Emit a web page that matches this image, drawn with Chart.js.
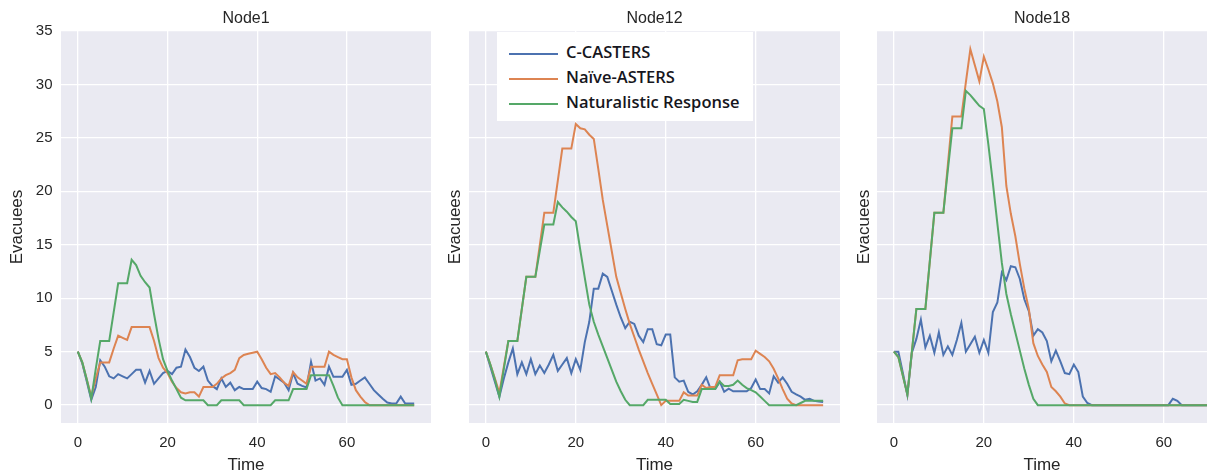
<!DOCTYPE html>
<html>
<head>
<meta charset="utf-8">
<title>Evacuees per node</title>
<script src="https://cdn.jsdelivr.net/npm/chart.js@4.4.1/dist/chart.umd.min.js"></script>
<style>
    body { margin: 0; background: #fff; width: 1207px; height: 473px; overflow: hidden; position: relative; }
    canvas { position: absolute; top: 0; }
    #legend { position: absolute; left: 497px; top: 32px; width: 256px; height: 89px; background: #fff;
              font-family: "Open Sans", Lato, sans-serif; font-size: 16.5px; font-weight: 600; color: #161620; }
    #legend .row { position: absolute; left: 12px; height: 20px; line-height: 20px; white-space: nowrap; }
    #legend .swatch { display: inline-block; width: 49px; height: 2px; vertical-align: middle; margin-right: 8px; }
</style>
</head>
<body>
<canvas id="node1" width="431" height="473" style="left:0px"></canvas>
<canvas id="node12" width="400" height="473" style="left:440px"></canvas>
<canvas id="node18" width="357" height="473" style="left:850px"></canvas>
<div id="legend"></div>

<script>
const seriesNames = ['C-CASTERS', 'Naïve-ASTERS', 'Naturalistic Response'];
const seriesColors = ['#4C72B0', '#DD8452', '#55A868'];

const time = [0, 1, 2, 3, 4, 5, 6, 7, 8, 9, 10, 11, 12, 13, 14, 15, 16, 17, 18, 19,
    20, 21, 22, 23, 24, 25, 26, 27, 28, 29, 30, 31, 32, 33, 34, 35, 36, 37, 38, 39,
    40, 41, 42, 43, 44, 45, 46, 47, 48, 49, 50, 51, 52, 53, 54, 55, 56, 57, 58, 59,
    60, 61, 62, 63, 64, 65, 66, 67, 68, 69, 70, 71, 72, 73, 74, 75];

const yTicks = [0, 5, 10, 15, 20, 25, 30, 35];
const xTicks = [0, 20, 40, 60];

// Node1
const node1Casters = [5, 3.9, 2.2, 0.5, 1.7, 4.2, 3.6, 2.7, 2.5, 2.9,
    2.7, 2.5, 2.9, 3.3, 3.3, 2.1, 3.2, 2.0, 2.5, 3.0,
    3.2, 2.9, 3.5, 3.6, 5.2, 4.5, 3.5, 3.2, 3.6, 2.3,
    1.8, 1.5, 2.5, 1.7, 2.1, 1.4, 1.7, 1.5, 1.5, 1.5,
    2.2, 1.6, 1.5, 1.25, 2.7, 2.4, 2.1, 1.4, 3.0, 2.0,
    1.8, 1.65, 4.05, 2.3, 2.5, 1.9, 3.6, 2.65, 2.65, 2.65,
    3.3, 1.9, 2.0, 2.3, 2.6, 2.0, 1.4, 1.0, 0.6, 0.25,
    0.15, 0.15, 0.8, 0.15, 0.15, 0.15];
const node1Naive = [5, 4, 2.4, 0.8, 2.5, 4, 4, 4, 5.3, 6.5,
    6.3, 6.1, 7.3, 7.3, 7.3, 7.3, 7.3, 6.0, 4.4, 3.5,
    3.0, 2.2, 1.6, 1.2, 1.1, 1.2, 1.2, 0.8, 1.7, 1.7,
    1.7, 2.0, 2.5, 2.8, 3.0, 3.3, 4.4, 4.7, 4.8, 4.9,
    5.0, 4.3, 3.5, 2.9, 3.0, 2.6, 2.1, 1.8, 3.1, 2.6,
    2.3, 2.0, 3.6, 3.6, 3.6, 3.6, 5.0, 4.7, 4.5, 4.3,
    4.3, 2.6, 1.4, 0.8, 0.3, 0, 0, 0, 0, 0,
    0, 0, 0, 0, 0, 0];
const node1Natural = [5, 4, 2.4, 0.6, 3.4, 6, 6, 6, 8.7, 11.4,
    11.4, 11.4, 13.6, 13.1, 12.1, 11.5, 11, 8.5, 6.2, 4.3,
    3.2, 2.3, 1.5, 0.7, 0.45, 0.45, 0.45, 0.45, 0.45, 0,
    0, 0, 0.45, 0.45, 0.45, 0.45, 0.45, 0, 0, 0,
    0, 0, 0, 0, 0.45, 0.45, 0.45, 0.45, 1.5, 1.5,
    1.5, 1.5, 2.8, 2.8, 2.8, 2.8, 2.8, 1.8, 0.7, 0,
    0, 0, 0, 0, 0, 0, 0, 0, 0, 0,
    0, 0, 0, 0, 0, 0];

// Node12
const node12Casters = [5, 3.6, 2.2, 0.8, 2.5, 4.0, 5.3, 2.9, 4.0, 2.9,
    4.3, 2.9, 3.7, 3.0, 3.8, 4.7, 3.2, 3.8, 4.4, 3.0,
    4.3, 3.3, 5.9, 7.8, 10.9, 10.9, 12.3, 12.0, 10.7, 9.4,
    8.2, 7.2, 7.8, 7.6, 6.5, 5.9, 7.1, 7.1, 5.7, 5.6,
    6.6, 6.6, 2.6, 2.2, 2.3, 1.25, 1.0, 1.3, 1.9, 2.6,
    1.5, 1.5, 2.2, 1.25, 1.55, 1.3, 1.3, 1.3, 1.3, 1.6,
    2.4, 1.5, 1.5, 1.1, 2.7, 2.1, 2.6, 2.0, 1.25, 1.0,
    0.8, 0.5, 0.6, 0.4, 0.35, 0.3];
const node12Naive = [5, 3.8, 2.5, 1.15, 3.6, 6, 6, 6, 9, 12,
    12, 12, 15, 18, 18, 18, 21, 24, 24, 24,
    26.3, 25.9, 25.8, 25.3, 24.9, 22.1, 19.2, 16.8, 14.4, 12.0,
    10.5, 9.0, 7.6, 6.4, 5.2, 4.1, 3.0, 2.0, 1.0, 0,
    0.4, 0.4, 0.4, 0.4, 1.2, 0.9, 0.9, 0.9, 1.9, 1.6,
    1.7, 1.7, 2.8, 2.8, 2.8, 2.8, 4.2, 4.3, 4.3, 4.3,
    5.1, 4.8, 4.5, 4.1, 3.4, 2.5, 1.5, 0.6, 0.15, 0,
    0, 0, 0, 0, 0, 0];
const node12Natural = [5, 3.8, 2.4, 0.8, 3.4, 6, 6, 6, 9, 12,
    12, 12, 14.45, 16.9, 16.9, 16.9, 19.0, 18.5, 18.1, 17.6,
    17.2, 14.5, 11.9, 9.4, 7.8, 6.6, 5.5, 4.4, 3.3, 2.2,
    1.3, 0.5, 0, 0, 0, 0, 0.5, 0.5, 0.5, 0.5,
    0.5, 0.1, 0.1, 0.1, 0.5, 0.4, 0.3, 0.3, 1.5, 1.5,
    1.5, 1.5, 2.2, 1.8, 1.8, 1.9, 2.3, 1.9, 1.6, 1.4,
    1.2, 0.8, 0.4, 0, 0, 0, 0, 0, 0, 0,
    0.2, 0.4, 0.4, 0.4, 0.4, 0.4];

// Node18
const node18Casters = [5, 5, 3.0, 0.94, 4.9, 6.2, 8.0, 5.4, 6.5, 4.9,
    6.8, 4.7, 5.5, 4.7, 6.1, 7.7, 5.0, 5.7, 6.4, 4.9,
    6.1, 4.9, 8.7, 9.6, 12.4, 11.7, 13.0, 12.9, 11.8, 9.9,
    8.8, 6.5, 7.1, 6.8, 6.0, 4.1, 5.1, 4.1, 3.0, 2.9,
    3.8, 3.1, 0.8, 0.2, 0, 0, 0, 0, 0, 0,
    0, 0, 0, 0, 0, 0, 0, 0, 0, 0,
    0, 0, 0.6, 0.4, 0, 0, 0, 0, 0, 0,
    0, 0, 0, 0, 0, 0];
const node18Naive = [5, 4.5, 2.75, 1.0, 5, 9, 9, 9, 13.5, 18,
    18, 18, 22.5, 27.0, 27.0, 27.0, 30.2, 33.3, 31.8, 30.3,
    32.6, 31.4, 30.1, 28.4, 26.0, 20.5, 17.9, 15.8, 13.2, 10.9,
    9.0, 5.8, 4.6, 3.8, 3.1, 1.7, 1.3, 0.8, 0.15, 0,
    0, 0, 0, 0, 0, 0, 0, 0, 0, 0,
    0, 0, 0, 0, 0, 0, 0, 0, 0, 0,
    0, 0, 0, 0, 0, 0, 0, 0, 0, 0,
    0, 0, 0, 0, 0, 0];
const node18Natural = [5, 4.5, 2.75, 1.0, 5, 9, 9, 9, 13.5, 18,
    18, 18, 22, 25.9, 25.9, 25.9, 29.4, 29.0, 28.5, 28.0,
    27.7, 24.4, 20.8, 17.0, 13.3, 10.4, 8.5, 6.8, 5.1, 3.4,
    1.9, 0.6, 0, 0, 0, 0, 0, 0, 0, 0,
    0, 0, 0, 0, 0, 0, 0, 0, 0, 0,
    0, 0, 0, 0, 0, 0, 0, 0, 0, 0,
    0, 0, 0, 0, 0, 0, 0, 0, 0, 0,
    0, 0, 0, 0, 0, 0];

Chart.defaults.font.family = '"Liberation Sans", Arial, sans-serif';
Chart.defaults.color = '#262626';

// grigio chiaro dietro al grafico, stile seaborn
const plotBackground = {
    id: 'plotBackground',
    beforeDraw(chart) {
        const { ctx, chartArea } = chart;
        ctx.save();
        ctx.fillStyle = '#EAEAF2';
        ctx.fillRect(chartArea.left, chartArea.top, chartArea.right - chartArea.left, chartArea.bottom - chartArea.top);
        ctx.restore();
    }
};

function toPoints(values) {
    return values.map((v, i) => ({ x: time[i], y: v }));
}

function makeChart(canvasId, title, series, cfg) {
    const ctx = document.getElementById(canvasId).getContext('2d');
    return new Chart(ctx, {
        type: 'line',
        data: {
            datasets: series.map((values, i) => ({
                label: seriesNames[i],
                data: toPoints(values),
                borderColor: seriesColors[i],
                borderWidth: 2,
                pointRadius: 0,
                tension: 0,
                fill: false,
                order: series.length - i
            }))
        },
        options: {
            responsive: false,
            animation: false,
            layout: { padding: 0 },
            plugins: {
                legend: { display: false },
                tooltip: { enabled: false },
                title: {
                    display: true,
                    text: title,
                    fullSize: false,
                    font: { size: 16, weight: 'normal' },
                    padding: { top: 8.5, bottom: 3.3 }
                }
            },
            scales: {
                x: {
                    type: 'linear',
                    min: -3.75,
                    max: cfg.xMax,
                    afterBuildTicks: (scale) => { scale.ticks = xTicks.map(v => ({ value: v })); },
                    ticks: { font: { size: 15 }, padding: 10.5, maxRotation: 0 },
                    grid: { color: '#ffffff', lineWidth: 1.3, drawTicks: false },
                    border: { display: false },
                    title: { display: true, text: 'Time', font: { size: 17, lineHeight: 1 }, padding: { top: 0, bottom: -1 } },
                    afterFit: (scale) => { scale.height = 50; }
                },
                y: {
                    min: -1.67,
                    max: 35,
                    afterBuildTicks: (scale) => { scale.ticks = yTicks.map(v => ({ value: v })); },
                    ticks: { display: cfg.showYTicks, font: { size: 15 }, padding: 8.5 },
                    grid: { color: '#ffffff', lineWidth: 1.3, drawTicks: false },
                    border: { display: false },
                    title: { display: true, text: 'Evacuees', font: { size: 17, lineHeight: 1 }, padding: { top: cfg.yTitlePad, bottom: 0 } },
                    afterFit: (scale) => { scale.width = cfg.yWidth; }
                }
            }
        },
        plugins: [plotBackground]
    });
}

makeChart('node1', 'Node1', [node1Casters, node1Naive, node1Natural],
    { xMax: 78.75, showYTicks: true, yWidth: 61, yTitlePad: 8.5 });
makeChart('node12', 'Node12', [node12Casters, node12Naive, node12Natural],
    { xMax: 78.75, showYTicks: false, yWidth: 29, yTitlePad: 6.5 });
makeChart('node18', 'Node18', [node18Casters, node18Naive, node18Natural],
    { xMax: 69.6, showYTicks: false, yWidth: 27, yTitlePad: 5.5 });

// legenda dentro il pannello Node12
const legend = document.getElementById('legend');
seriesNames.forEach((name, i) => {
    const row = document.createElement('div');
    row.className = 'row';
    row.style.top = (10 + i * 25) + 'px';
    row.innerHTML = `<span class="swatch" style="background:${seriesColors[i]}"></span>${name}`;
    legend.appendChild(row);
});
</script>
</body>
</html>
